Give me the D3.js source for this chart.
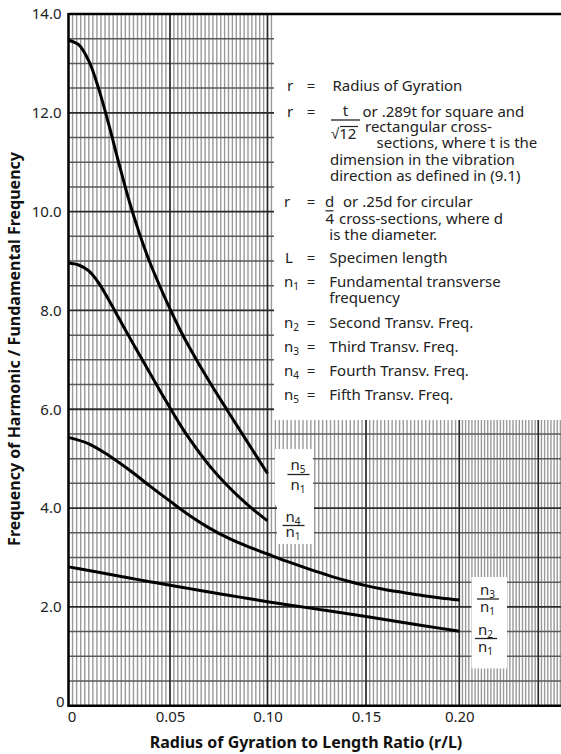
<!DOCTYPE html>
<html>
<head>
<meta charset="utf-8">
<script src="https://cdn.jsdelivr.net/npm/d3@7"></script>
<style>
  body { margin: 0; background: #fff; }
  svg { display: block; font-family: "Noto Sans", sans-serif; }
</style>
</head>
<body>
<div id="chart"></div>
<script>
// values (r/L -> harmonic ratio)
const ratioShort = [0, 0.005, 0.01, 0.015, 0.02, 0.025, 0.03, 0.035, 0.04, 0.045, 0.05, 0.055, 0.06, 0.07, 0.08, 0.09, 0.10];
const n5Ratio = [13.47, 13.38, 13.05, 12.47, 11.74, 10.95, 10.2, 9.55, 8.98, 8.49, 8.03, 7.62, 7.25, 6.57, 5.94, 5.32, 4.70];
const n4Ratio = [8.96, 8.92, 8.80, 8.55, 8.20, 7.83, 7.46, 7.10, 6.74, 6.38, 6.03, 5.70, 5.40, 4.87, 4.43, 4.06, 3.74];

const ratioLong = [0, 0.01, 0.02, 0.03, 0.04, 0.05, 0.06, 0.07, 0.08, 0.09, 0.10, 0.11, 0.12, 0.13, 0.14, 0.15, 0.16, 0.17, 0.18, 0.19, 0.20];
const n3Ratio = [5.43, 5.30, 5.06, 4.77, 4.45, 4.14, 3.85, 3.60, 3.39, 3.22, 3.07, 2.92, 2.78, 2.65, 2.53, 2.43, 2.35, 2.29, 2.23, 2.18, 2.14];
const n2Ratio = [2.81, 2.735, 2.66, 2.585, 2.51, 2.44, 2.37, 2.30, 2.235, 2.17, 2.105, 2.045, 1.985, 1.925, 1.865, 1.805, 1.745, 1.685, 1.625, 1.565, 1.505];

const xTicks = [0, 0.05, 0.10, 0.15, 0.20];
const xTickLabels = ["0", "0.05", "0.10", "0.15", "0.20"];
const yTicks = [0, 2, 4, 6, 8, 10, 12, 14];
const yTickLabels = ["0", "2.0", "4.0", "6.0", "8.0", "10.0", "12.0", "14.0"];

const legendRows = [
  "Radius of Gyration",
  "or .289t for square and", "rectangular cross-", "sections, where t is the",
  "dimension in the vibration", "direction as defined in (9.1)",
  "or .25d for circular", "cross-sections, where d", "is the diameter.",
  "Specimen length",
  "Fundamental transverse", "frequency",
  "Second Transv. Freq.", "Third Transv. Freq.", "Fourth Transv. Freq.", "Fifth Transv. Freq."
];

const width = 561;
const height = 754;

const svg = d3.select("#chart").append("svg")
  .attr("width", width)
  .attr("height", height);

// the scanned grid is not quite even, so the x scale is piecewise
const x = d3.scaleLinear()
  .domain([0, 0.05, 0.10, 0.15, 0.20, 0.25])
  .range([68.5, 170, 267.5, 366, 459.3, 538.3]);

const y = d3.scaleLinear()
  .domain([0, 14])
  .range([705.7, 14]);

const plotLeft = x(0), plotBottom = y(0), plotTop = y(14);

// grid
const grid = svg.append("g");
const xMinor = d3.range(0, 0.2801, 0.002);
grid.selectAll("line.vminor")
  .data(xMinor)
  .join("line")
    .attr("x1", d => x(d)).attr("x2", d => x(d))
    .attr("y1", plotTop).attr("y2", plotBottom)
    .attr("stroke", "#9a9a9a")
    .attr("stroke-width", 1.4);

const yMinor = d3.range(0.5, 14, 0.5).filter(d => d % 2 !== 0);
grid.selectAll("line.hminor")
  .data(yMinor)
  .join("line")
    .attr("x1", plotLeft).attr("x2", width)
    .attr("y1", d => y(d)).attr("y2", d => y(d))
    .attr("stroke", "#5a5a5a")
    .attr("stroke-width", 1.5);

grid.selectAll("line.hmajor")
  .data(yTicks.filter(d => d > 0 && d < 14))
  .join("line")
    .attr("x1", plotLeft).attr("x2", width)
    .attr("y1", d => y(d)).attr("y2", d => y(d))
    .attr("stroke", "#2a2a2a")
    .attr("stroke-width", 1.8);

grid.selectAll("line.vmajor")
  .data([0.05, 0.10, 0.15, 0.20, 0.25])
  .join("line")
    .attr("x1", d => x(d)).attr("x2", d => x(d))
    .attr("y1", plotTop).attr("y2", plotBottom)
    .attr("stroke", "#2a2a2a")
    .attr("stroke-width", 1.6);

// white panel holding the notation key
svg.append("rect")
  .attr("x", 274).attr("y", plotTop)
  .attr("width", width - 274).attr("height", 420 - plotTop)
  .attr("fill", "#fff");

// curves
const line = d3.line()
  .x(d => x(d[0]))
  .y(d => y(d[1]))
  .curve(d3.curveCatmullRom.alpha(0.5));

const series = [
  d3.zip(ratioShort, n5Ratio),
  d3.zip(ratioShort, n4Ratio),
  d3.zip(ratioLong, n3Ratio),
  d3.zip(ratioLong, n2Ratio)
];

svg.append("g").selectAll("path")
  .data(series)
  .join("path")
    .attr("d", line)
    .attr("fill", "none")
    .attr("stroke", "#000")
    .attr("stroke-width", 3);

// frame: left, bottom, top
svg.append("line")
  .attr("x1", plotLeft).attr("x2", plotLeft)
  .attr("y1", plotTop - 1).attr("y2", plotBottom + 1.2)
  .attr("stroke", "#000").attr("stroke-width", 2.5);
svg.append("line")
  .attr("x1", plotLeft).attr("x2", width)
  .attr("y1", plotBottom).attr("y2", plotBottom)
  .attr("stroke", "#000").attr("stroke-width", 2.5);
svg.append("line")
  .attr("x1", plotLeft).attr("x2", width)
  .attr("y1", plotTop).attr("y2", plotTop)
  .attr("stroke", "#000").attr("stroke-width", 2.5);

// axes (labels only, the grid does the ticks)
const xAxis = svg.append("g")
  .attr("transform", `translate(0,${plotBottom})`)
  .call(d3.axisBottom(x).tickValues(xTicks).tickSize(0).tickPadding(6)
    .tickFormat((d, i) => xTickLabels[i]));
xAxis.select(".domain").remove();
xAxis.selectAll("text")
  .attr("font-size", 15).attr("font-family", "Noto Sans")
  .attr("fill", "#222")
  .attr("dx", (d, i) => i === 0 ? 3 : 0);

const yAxis = svg.append("g")
  .attr("transform", `translate(${plotLeft},0)`)
  .call(d3.axisLeft(y).tickValues(yTicks).tickSize(0).tickPadding(7)
    .tickFormat((d, i) => yTickLabels[i]));
yAxis.select(".domain").remove();
yAxis.selectAll("text")
  .attr("font-size", 15).attr("font-family", "Noto Sans")
  .attr("fill", "#222")
  .attr("dx", (d, i) => i === 0 ? 3 : 0)
  .attr("dy", (d, i) => i === 0 ? "0.05em" : "0.32em");

// axis titles
svg.append("text")
  .attr("x", 306).attr("y", 748)
  .attr("text-anchor", "middle")
  .attr("font-size", 16).attr("font-weight", "bold")
  .attr("fill", "#111")
  .text("Radius of Gyration to Length Ratio (r/L)");

svg.append("text")
  .attr("transform", "translate(19.5,349) rotate(-90)")
  .attr("text-anchor", "middle")
  .attr("font-size", 16).attr("font-weight", "bold")
  .attr("fill", "#111")
  .text("Frequency of Harmonic / Fundamental Frequency");

// notation key
const key = svg.append("g").attr("font-size", 15).attr("fill", "#222");

function sym(g, xPos, yPos, main, sub) {
  const t = g.append("text").attr("x", xPos).attr("y", yPos).text(main);
  if (sub) t.append("tspan").attr("font-size", 10).attr("dy", 3).text(sub);
  return t;
}
function eq(g, yPos) {
  g.append("text").attr("x", 311).attr("y", yPos).attr("text-anchor", "middle").text("=");
}
function txt(g, xPos, yPos, s) {
  g.append("text").attr("x", xPos).attr("y", yPos).text(s);
}

sym(key, 287, 91, "r"); eq(key, 91);
txt(key, 332.5, 91, legendRows[0]);

sym(key, 287, 117, "r"); eq(key, 117);
key.append("text").attr("x", 345.5).attr("y", 116).attr("text-anchor", "middle").text("t");
key.append("line").attr("x1", 331).attr("x2", 360).attr("y1", 120).attr("y2", 120)
  .attr("stroke", "#222").attr("stroke-width", 1.3);
key.append("text").attr("x", 331).attr("y", 139).text("\u221A12");
key.append("line").attr("x1", 340).attr("x2", 358).attr("y1", 126.5).attr("y2", 126.5)
  .attr("stroke", "#222").attr("stroke-width", 1.2);
txt(key, 362.5, 117, legendRows[1]);
txt(key, 365, 132, legendRows[2]);
txt(key, 376.5, 148, legendRows[3]);
txt(key, 330, 165, legendRows[4]);
txt(key, 330, 181, legendRows[5]);

sym(key, 284, 207, "r"); eq(key, 207);
key.append("text").attr("x", 329.5).attr("y", 207).attr("text-anchor", "middle").text("d");
key.append("line").attr("x1", 325.5).attr("x2", 333.5).attr("y1", 210.8).attr("y2", 210.8)
  .attr("stroke", "#222").attr("stroke-width", 1.2);
txt(key, 343, 207, legendRows[6]);
txt(key, 325.5, 223.5, "4");
txt(key, 339, 223.5, legendRows[7]);
txt(key, 329.3, 239.5, legendRows[8]);

sym(key, 285, 262.5, "L"); eq(key, 262.5);
txt(key, 329.3, 262.5, legendRows[9]);

sym(key, 284, 287, "n", "1"); eq(key, 287);
txt(key, 329.3, 287, legendRows[10]);
txt(key, 329.3, 302.5, legendRows[11]);

[["2", 328], ["3", 352], ["4", 376], ["5", 400]].forEach(([k, yy], i) => {
  sym(key, 284, yy, "n", k); eq(key, yy);
  txt(key, 329.3, yy, legendRows[12 + i]);
});

// curve labels n_k / n_1 on white patches
function fraction(g, cx, yNum, yBar, yDen, k) {
  sym(g, cx - 8, yNum, "n", k);
  g.append("line").attr("x1", cx - 11).attr("x2", cx + 11)
    .attr("y1", yBar).attr("y2", yBar)
    .attr("stroke", "#222").attr("stroke-width", 1.3);
  sym(g, cx - 8, yDen, "n", "1");
}

const labels = svg.append("g").attr("font-size", 15).attr("fill", "#222");
labels.append("rect").attr("x", 275).attr("y", 449).attr("width", 38).attr("height", 56).attr("fill", "#fff");
labels.append("rect").attr("x", 277).attr("y", 505).attr("width", 37).attr("height", 39).attr("fill", "#fff");
labels.append("rect").attr("x", 471.5).attr("y", 577).attr("width", 35.5).attr("height", 91.5).attr("fill", "#fff");

fraction(labels, 298.5, 470, 474.5, 489.5, "5");
fraction(labels, 293.5, 521.5, 525.5, 537, "4");
fraction(labels, 488, 595, 599, 612, "3");
fraction(labels, 486, 635, 638.5, 652, "2");
</script>
</body>
</html>
